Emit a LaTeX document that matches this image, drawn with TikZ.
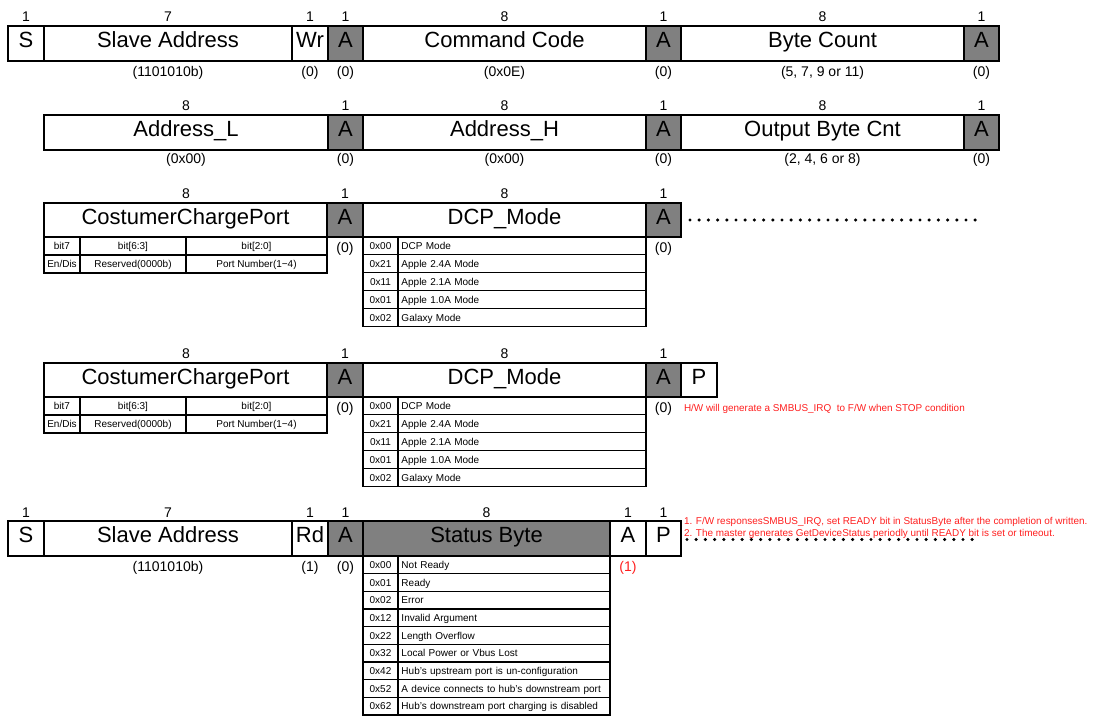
\documentclass[tikz,border=0pt]{standalone}
\usepackage{fontspec}
\setmainfont{Liberation Sans}
\definecolor{notered}{RGB}{255,30,30}
\definecolor{ackgray}{RGB}{128,128,128}
\newcommand\fieldnode[7]{%
  \node[#1, minimum width={(#4-#3)*0.75pt}, minimum height={(#6-#5)*0.75pt}] (#2) at ({(#3+#4)/2},{(#5+#6)/2}) {#7};}
\newcommand\lab[5][num]{\node[#1] (#2) at (#3,#4) {#5};}
\begin{document}
\begin{tikzpicture}[x=0.75pt,y=-0.75pt,
  base/.style={inner sep=0pt, outer sep=0pt, text height=0.75em, text depth=0.2em},
  fld/.style={base, draw, line width=1.1pt, text height=0.72em, text depth=0.08em, font=\fontsize{16.5}{18}\selectfont},
  ack/.style={fld, fill=ackgray},
  num/.style={base, font=\fontsize{10.5}{12}\selectfont},
  rnum/.style={num, text=notered},
  tcell/.style={base, draw, line width=0.8pt, font=\fontsize{7.5}{9}\selectfont},
  tdesc/.style={tcell, align=left, inner xsep=2.6pt},
  note/.style={base, text=notered, anchor=west, font=\fontsize{7.45}{9}\selectfont},
  dots/.style={line width=2.6pt, line cap=round, dash pattern=on 0pt off 6.9pt}]
\useasboundingbox (0,0) rectangle (1093,716);

% ---------------- Row 1 ----------------
\fieldnode{fld}{s1}{8}{44}{26}{61}{S}
\fieldnode{fld}{sa1}{44}{292}{26}{61}{Slave Address}
\fieldnode{fld}{wr1}{292}{328}{26}{61}{Wr}
\fieldnode{ack}{a11}{328}{363}{26}{61}{A}
\fieldnode{fld}{cc1}{363}{646}{26}{61}{Command Code}
\fieldnode{ack}{a12}{646}{681}{26}{61}{A}
\fieldnode{fld}{bc1}{681}{964}{26}{61}{Byte Count}
\fieldnode{ack}{a13}{964}{999}{26}{61}{A}
\lab{n11}{26}{18}{1}
\lab{n12}{168}{18}{7}
\lab{n13}{310}{18}{1}
\lab{n14}{345.5}{18}{1}
\lab{n15}{504.5}{18}{8}
\lab{n16}{663.5}{18}{1}
\lab{n17}{822.5}{18}{8}
\lab{n18}{981.5}{18}{1}
\lab{v12}{168}{72.5}{(1101010b)}
\lab{v13}{310}{72.5}{(0)}
\lab{v14}{345.5}{72.5}{(0)}
\lab{v15}{504.5}{72.5}{(0x0E)}
\lab{v16}{663.5}{72.5}{(0)}
\lab{v17}{822.5}{72.5}{(5, 7, 9 or 11)}
\lab{v18}{981.5}{72.5}{(0)}

% ---------------- Row 2 ----------------
\fieldnode{fld}{al2}{44}{328}{115}{150}{Address\_L}
\fieldnode{ack}{a21}{328}{363}{115}{150}{A}
\fieldnode{fld}{ah2}{363}{646}{115}{150}{Address\_H}
\fieldnode{ack}{a22}{646}{681}{115}{150}{A}
\fieldnode{fld}{ob2}{681}{964}{115}{150}{Output Byte Cnt}
\fieldnode{ack}{a23}{964}{999}{115}{150}{A}
\lab{n21}{186}{107}{8}
\lab{n22}{345.5}{107}{1}
\lab{n23}{504.5}{107}{8}
\lab{n24}{663.5}{107}{1}
\lab{n25}{822.5}{107}{8}
\lab{n26}{981.5}{107}{1}
\lab{v21}{186}{160}{(0x00)}
\lab{v22}{345.5}{160}{(0)}
\lab{v23}{504.5}{160}{(0x00)}
\lab{v24}{663.5}{160}{(0)}
\lab{v25}{822.5}{160}{(2, 4, 6 or 8)}
\lab{v26}{981.5}{160}{(0)}

% ---------------- Rows 3 and 4 ----------------
\foreach \r/\yt/\yb in {3/203/237, 4/363/397} {
  \fieldnode{fld}{ccp\r}{44}{327}{\yt}{\yb}{CostumerChargePort}
  \fieldnode{ack}{aa\r}{327}{363}{\yt}{\yb}{A}
  \fieldnode{fld}{dcp\r}{363}{646}{\yt}{\yb}{DCP\_Mode}
  \fieldnode{ack}{ab\r}{646}{681}{\yt}{\yb}{A}
  \lab{na\r}{186}{\yt-8.5}{8}
  \lab{nb\r}{345}{\yt-8.5}{1}
  \lab{nc\r}{504.5}{\yt-8.5}{8}
  \lab{nd\r}{663.5}{\yt-8.5}{1}
  \lab{va\r}{345}{\yb+11.5}{(0)}
  \lab{vb\r}{663.5}{\yb+11.5}{(0)}
  % bit table
  \pgfmathsetmacro\ya{\yb+18}
  \pgfmathsetmacro\yc{\yb+36}
  \fieldnode{tcell}{bt\r a}{44}{80}{\yb}{\ya}{bit7}
  \fieldnode{tcell}{bt\r b}{80}{186}{\yb}{\ya}{bit[6:3]}
  \fieldnode{tcell}{bt\r c}{186}{327}{\yb}{\ya}{bit[2:0]}
  \fieldnode{tcell}{bv\r a}{44}{80}{\ya}{\yc}{En/Dis}
  \fieldnode{tcell}{bv\r b}{80}{186}{\ya}{\yc}{Reserved(0000b)}
  \fieldnode{tcell}{bv\r c}{186}{327}{\ya}{\yc}{Port Number(1\char"2212 4)}
  % DCP mode table
  \foreach \hx/\txt [count=\i] in {0x00/DCP Mode, 0x21/Apple 2.4A Mode, 0x11/Apple 2.1A Mode, 0x01/Apple 1.0A Mode, 0x02/Galaxy Mode} {
    \pgfmathsetmacro\ra{\yb+17.9*(\i-1)}
    \pgfmathsetmacro\rb{\ra+17.9}
    \fieldnode{tcell}{mh\r\i}{363}{398}{\ra}{\rb}{\hx}
    \fieldnode{tdesc, text width=180.8pt}{md\r\i}{398}{646}{\ra}{\rb}{\txt}
  }
}
\fieldnode{fld}{p4}{681}{717}{363}{397}{P}
\node[note] (note4) at (684,408) {H/W will generate a SMBUS\_IRQ \ to F/W when STOP condition};
\coordinate (d3s) at (690,220);
\coordinate (d3e) at (976,220);
\draw[dots] (d3s) -- (d3e);

% ---------------- Row 5 ----------------
\fieldnode{fld}{s5}{8}{44}{521}{556}{S}
\fieldnode{fld}{sa5}{44}{292}{521}{556}{Slave Address}
\fieldnode{fld}{rd5}{292}{328}{521}{556}{Rd}
\fieldnode{ack}{a51}{328}{363}{521}{556}{A}
\fieldnode{ack}{sb5}{363}{610}{521}{556}{Status Byte}
\fieldnode{fld}{a52}{610}{646}{521}{556}{A}
\fieldnode{fld}{p5}{646}{681}{521}{556}{P}
\lab{n51}{26}{513.5}{1}
\lab{n52}{168}{513.5}{7}
\lab{n53}{310}{513.5}{1}
\lab{n54}{345.5}{513.5}{1}
\lab{n55}{486.5}{513.5}{8}
\lab{n56}{628}{513.5}{1}
\lab{n57}{663.5}{513.5}{1}
\lab{v52}{168}{567.5}{(1101010b)}
\lab{v53}{310}{567.5}{(1)}
\lab{v54}{345.5}{567.5}{(0)}
\lab[rnum]{v56}{628}{567.5}{(1)}
\foreach \hx/\txt [count=\i] in {0x00/Not Ready, 0x01/Ready, 0x02/Error, 0x12/Invalid Argument, 0x22/Length Overflow, 0x32/Local Power or Vbus Lost, 0x42/Hub's upstream port is un-configuration, 0x52/A device connects to hub's downstream port, 0x62/Hub's downstream port charging is disabled} {
  \pgfmathsetmacro\ra{556+17.67*(\i-1)}
  \pgfmathsetmacro\rb{\ra+17.67}
  \fieldnode{tcell}{sh\i}{363}{398}{\ra}{\rb}{\hx}
  \fieldnode{tdesc, text width=153.8pt}{sd\i}{398}{610}{\ra}{\rb}{\txt}
}
\node[note] (note5a) at (684,521) {1. F/W responsesSMBUS\_IRQ, set READY bit in StatusByte after the completion of written.};
\node[note] (note5b) at (684,533) {2. The master generates GetDeviceStatus periodly until READY bit is set or timeout.};
\coordinate (d5s) at (687,539.5);
\coordinate (d5e) at (974,539.5);
\draw[dots] (d5s) -- (d5e);
\end{tikzpicture}
\end{document}
